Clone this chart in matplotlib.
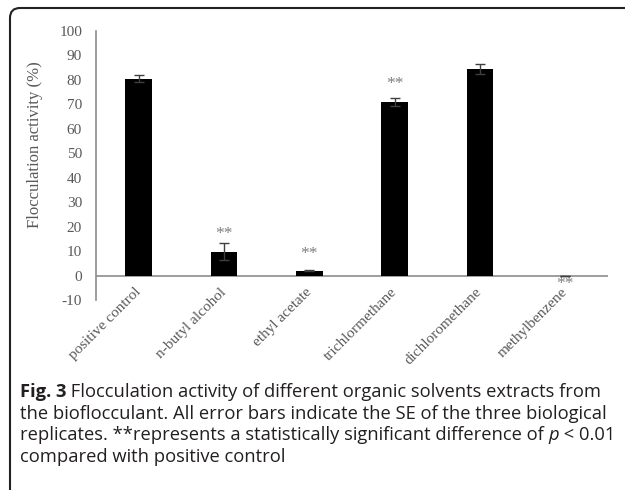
"""Flocculation activity of organic solvent extracts, bar chart with SE error bars."""

import matplotlib
matplotlib.use("Agg")
import matplotlib.pyplot as plt
from matplotlib.patches import FancyBboxPatch
from matplotlib.transforms import IdentityTransform

## Data
solvents = ["positive control", "n-butyl alcohol", "ethyl acetate",
            "trichlormethane", "dichloromethane", "methylbenzene"]
activity = [80.5, 9.8, 2.0, 71.0, 84.5, 0.0]
se = [1.3, 3.5, 0.3, 1.5, 2.0, 0.0]
star_height = [None, 17.0, 8.8, 78.5, None, -3.6]  # where the ** labels sit
y_ticks = list(range(-10, 101, 10))

## Style
SERIF = ["Liberation Serif", "DejaVu Serif"]
SANS = ["Open Sans", "DejaVu Sans"]
TEXT_GRAY = "#595959"
AXIS_GRAY = "#8c8c8c"

fig = plt.figure(figsize=(6.25, 4.9), dpi=100)
ax = fig.add_axes([0.1536, 0.3878, 0.8192, 0.549])

x = list(range(len(solvents)))
ax.bar(x, activity, width=0.31, color="black", zorder=3)
ax.errorbar(x, activity, yerr=se, fmt="none", ecolor="#404040",
            elinewidth=1.0, capsize=3.5, capthick=1.0, zorder=4)
for xi, h in zip(x, star_height):
    if h is not None:
        ax.text(xi, h, "**", ha="center", va="center", color="#7f7f7f",
                fontsize=12.5, family=SERIF)

ax.axhline(0, color=AXIS_GRAY, lw=1.2, zorder=2)
ax.set_xlim(-0.5, len(solvents) - 0.5)
ax.set_ylim(-10, 100)
ax.set_yticks(y_ticks)
ax.set_yticklabels([str(t) for t in y_ticks], family=SERIF, fontsize=11, color=TEXT_GRAY)
ax.set_xticks(x)
ax.set_xticklabels(solvents, rotation=45, ha="right", va="center", rotation_mode="anchor",
                   family=SERIF, fontsize=11, color=TEXT_GRAY)
ax.tick_params(axis="both", length=0)
ax.tick_params(axis="y", pad=10)
ax.tick_params(axis="x", pad=-7)
for side in ["top", "right", "bottom"]:
    ax.spines[side].set_visible(False)
ax.spines["left"].set_color(AXIS_GRAY)
ax.spines["left"].set_linewidth(1.2)
ax.set_ylabel("Flocculation activity (%)", family=SERIF, fontsize=12,
              color=TEXT_GRAY)
ax.yaxis.set_label_coords(-(96 - 43) / 512, 0.576)

# rounded frame around the whole panel
frame = FancyBboxPatch((10, -30), 700, 512, boxstyle="round,pad=0,rounding_size=10",
                       transform=IdentityTransform(), fill=False,
                       edgecolor="#222222", lw=1.5)
fig.patches.append(frame)

# caption
renderer = fig.canvas.get_renderer()
CAP_SIZE = 13.2
x0 = 20 / 625
baselines = [1 - 397 / 490, 1 - 418.5 / 490, 1 - 440 / 490, 1 - 461.5 / 490]


def put(xf, yf, s, **kw):
    t = fig.text(xf, yf, s, fontsize=CAP_SIZE, family=SANS, color="#231f20",
                 va="baseline", ha="left", **kw)
    bb = t.get_window_extent(renderer)
    return bb.x1 / fig.bbox.width


xe = put(x0, baselines[0], "Fig. 3", weight="bold")
put(xe, baselines[0], " Flocculation activity of different organic solvents extracts from")
put(x0, baselines[1], "the bioflocculant. All error bars indicate the SE of the three biological")
xe = put(x0, baselines[2], "replicates. **represents a statistically significant difference of ")
xe = put(xe, baselines[2], "p", style="italic")
put(xe, baselines[2], " < 0.01")
put(x0, baselines[3], "compared with positive control")

fig.savefig("out.png", dpi=100)
